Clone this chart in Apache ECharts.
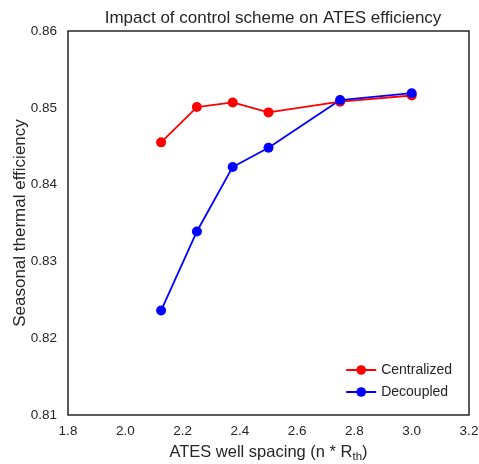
<!DOCTYPE html>
<html>
<head>
<meta charset="utf-8">
<script src="https://cdn.jsdelivr.net/npm/echarts@6/dist/echarts.min.js"></script>
<style>
  html, body { margin: 0; padding: 0; background: #fff; }
  #chart { width: 479px; height: 464px; }
</style>
</head>
<body>
<div id="chart"></div>
<script>
// well spacing (n * R_th)
const spacing = [2.125, 2.25, 2.375, 2.5, 2.75, 3.0]
const centralized = [0.8455, 0.8501, 0.8507, 0.8494, 0.8508, 0.8516]
const decoupled = [0.8236, 0.8339, 0.8423, 0.8448, 0.8510, 0.8519]

const font = 'Liberation Sans, Arial, sans-serif'
const chart = echarts.init(document.getElementById('chart'))

function pairs(ys) {
  return spacing.map((x, i) => [x, ys[i]])
}

chart.setOption({
  backgroundColor: '#fff',
  animation: false,
  textStyle: { fontFamily: font },
  title: {
    text: 'Impact of control scheme on ATES efficiency',
    left: 268,
    textAlign: 'center',
    top: 5,
    textStyle: { fontFamily: font, fontSize: 17, fontWeight: 'normal', color: '#262626' },
  },
  grid: {
    left: 68,
    right: 10,
    top: 31,
    bottom: 49,
    outerBoundsMode: 'none',
    show: true,
    borderColor: '#262626',
    borderWidth: 1.5,
  },
  legend: {
    orient: 'vertical',
    right: 22,
    bottom: 60,
    itemWidth: 30,
    itemHeight: 12,
    itemGap: 8,
    textStyle: { fontFamily: font, fontSize: 14, color: '#262626' },
    data: ['Centralized', 'Decoupled'],
  },
  xAxis: {
    type: 'value',
    min: 1.8,
    max: 3.2,
    interval: 0.2,
    name: 'ATES well spacing (n * R{sub|th})',
    nameLocation: 'middle',
    nameGap: 27,
    nameMoveOverlap: false,
    nameTextStyle: {
      fontFamily: font,
      fontSize: 16.5,
      color: '#262626',
      rich: {
        sub: { fontFamily: font, fontSize: 11.5, color: '#262626', padding: [9, 0, 0, 0] },
      },
    },
    axisLine: { show: false },
    axisTick: { show: false },
    splitLine: { show: false },
    axisLabel: {
      margin: 9,
      fontSize: 13.5,
      color: '#262626',
      formatter: (v) => v.toFixed(1),
    },
  },
  yAxis: {
    type: 'value',
    min: 0.81,
    max: 0.86,
    interval: 0.01,
    name: 'Seasonal thermal efficiency',
    nameLocation: 'middle',
    nameGap: 39,
    nameMoveOverlap: false,
    nameTextStyle: { fontFamily: font, fontSize: 17, color: '#262626' },
    axisLine: { show: false },
    axisTick: { show: false },
    splitLine: { show: false },
    axisLabel: {
      margin: 11,
      fontSize: 13.5,
      color: '#262626',
      formatter: (v) => v.toFixed(2),
    },
  },
  series: [
    {
      name: 'Centralized',
      type: 'line',
      data: pairs(centralized),
      symbol: 'circle',
      symbolSize: 10,
      color: '#ff0000',
      lineStyle: { width: 1.8, color: '#ff0000' },
      itemStyle: { color: '#ff0000' },
    },
    {
      name: 'Decoupled',
      type: 'line',
      data: pairs(decoupled),
      symbol: 'circle',
      symbolSize: 10,
      color: '#0000ff',
      lineStyle: { width: 1.8, color: '#0000ff' },
      itemStyle: { color: '#0000ff' },
    },
  ],
})
</script>
</body>
</html>
